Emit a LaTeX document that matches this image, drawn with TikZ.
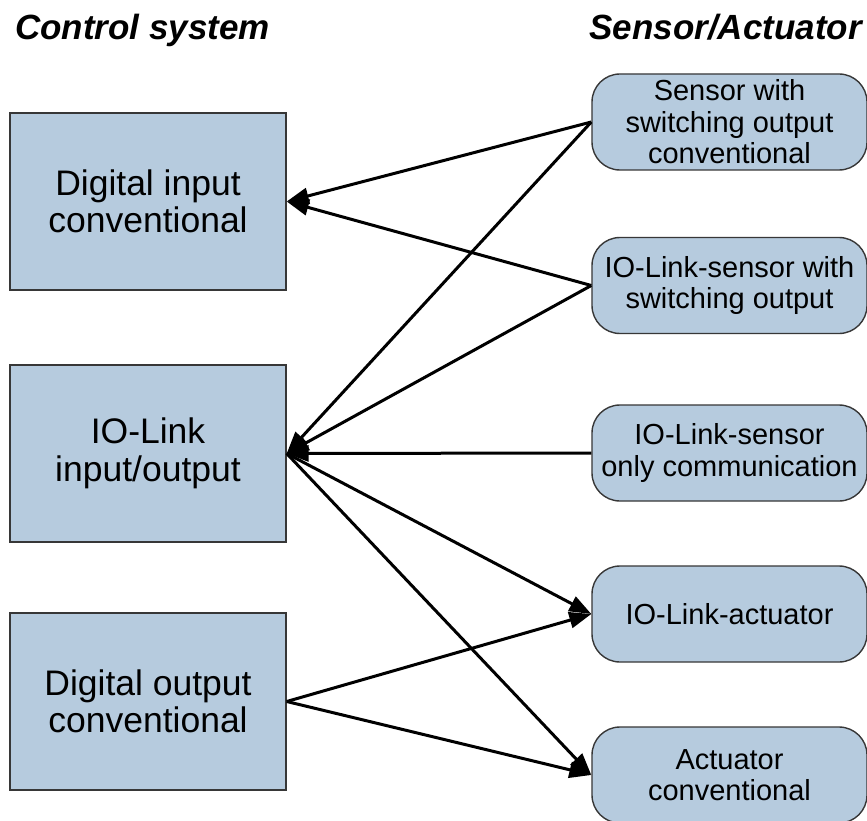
\documentclass[tikz,border=0pt]{standalone}
\usepackage{fontspec}
\setmainfont{Liberation Sans}
\usetikzlibrary{arrows.meta}
\definecolor{boxfill}{RGB}{182,203,222}
\definecolor{boxline}{RGB}{55,55,55}
\tikzset{
  ctrlbox/.style={draw=boxline, line width=1.4pt, fill=boxfill, minimum width=276pt, minimum height=177pt, align=center, inner sep=0pt, font=\fontsize{35.5}{37.5}\selectfont},
  devbox/.style={draw=boxline, line width=1.4pt, fill=boxfill, rounded corners=28pt, minimum width=275pt, minimum height=96pt, align=center, inner sep=0pt, font=\fontsize{29}{31.5}\selectfont},
  conn/.style={line width=3pt, -{Triangle[length=22pt,width=16pt]}},
  titletext/.style={font=\fontsize{35}{38}\selectfont\bfseries\itshape, inner sep=0pt}
}
\begin{document}
\begin{tikzpicture}[x=1pt,y=-1pt]
\useasboundingbox (0,0) rectangle (867,821);
\fill[white] (0,0) rectangle (867,821);
\node[titletext, anchor=base west] (t1) at (15,40) {Control system};
\node[titletext, anchor=base east] (t2) at (862,40) {Sensor/Actuator};

\node[ctrlbox] (di) at (148,201.5) {Digital input\\conventional};
\node[ctrlbox] (iol) at (148,453.5) {IO-Link\\input/output};
\node[ctrlbox] (do) at (148,701.5) {Digital output\\conventional};

\node[devbox] (s1) at (729.5,122) {Sensor with\\switching output\\conventional};
\node[devbox] (s2) at (729.5,285.5) {IO-Link-sensor with\\switching output};
\node[devbox] (s3) at (729.5,453) {IO-Link-sensor\\only communication};
\node[devbox] (a1) at (729.5,614) {IO-Link-actuator};
\node[devbox] (a2) at (729.5,775) {Actuator\\conventional};

\draw[conn] (s1.west) -- (di.east);
\draw[conn] (s2.west) -- (di.east);
\draw[conn] (s1.west) -- (iol.east);
\draw[conn] (s2.west) -- (iol.east);
\draw[conn] (s3.west) -- (iol.east);
\draw[conn] (iol.east) -- (a1.west);
\draw[conn] (iol.east) -- (a2.west);
\draw[conn] (do.east) -- (a1.west);
\draw[conn] (do.east) -- (a2.west);
\end{tikzpicture}
\end{document}
